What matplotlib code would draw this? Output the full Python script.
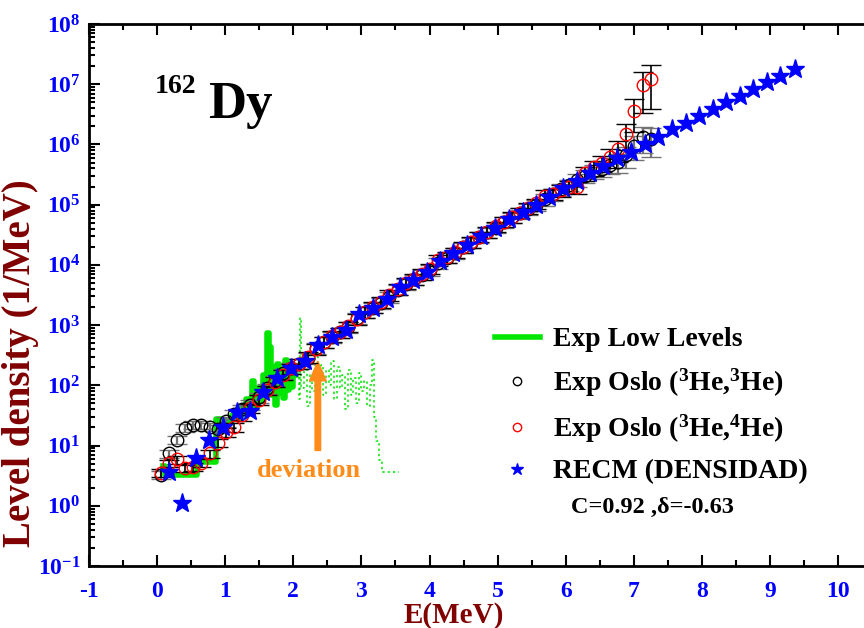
import numpy as np
import matplotlib
matplotlib.use("Agg")
import matplotlib.pyplot as plt
from matplotlib.lines import Line2D
from matplotlib.ticker import FixedLocator, LogLocator, FuncFormatter, NullFormatter, MultipleLocator

# ---- data ----
# RECM (DENSIDAD) stars
e_recm = [0.17, 0.37, 0.57, 0.76, 0.97, 1.17, 1.36, 1.56, 1.76, 1.96, 2.17, 2.36,
          2.57, 2.77, 2.97, 3.17, 3.37, 3.57, 3.76, 3.96, 4.15, 4.35, 4.55, 4.76,
          4.96, 5.16, 5.37, 5.56, 5.75, 5.96, 6.16, 6.36, 6.55, 6.75, 6.96, 7.16,
          7.36, 7.56, 7.77, 7.96, 8.16, 8.35, 8.56, 8.75, 8.96, 9.15, 9.37]
rho_recm = [3.6, 1.1, 6.2, 12.3, 20.4, 35.5, 37.2, 77.6, 132, 195, 251, 468,
            631, 832, 1510, 1950, 2690, 4270, 5620, 7590, 11500, 15500, 21400, 30200,
            40700, 57500, 75900, 97700, 1.35e5, 1.91e5, 2.51e5, 3.31e5, 4.47e5, 5.89e5, 7.59e5, 1.02e6,
            1.32e6, 1.82e6, 2.29e6, 2.95e6, 3.89e6, 5.01e6, 6.31e6, 8.32e6, 1.10e7, 1.38e7, 1.78e7]

# Oslo (3He,3He) and (3He,4He), same energy bins
e_oslo = [0.05, 0.17, 0.29, 0.41, 0.53, 0.65, 0.77, 0.89, 1.01, 1.13, 1.25, 1.37,
          1.49, 1.61, 1.73, 1.85, 1.97, 2.09, 2.21, 2.33, 2.45, 2.57, 2.69, 2.81,
          2.93, 3.05, 3.17, 3.29, 3.41, 3.53, 3.65, 3.77, 3.89, 4.01, 4.13, 4.25,
          4.37, 4.49, 4.61, 4.73, 4.85, 4.97, 5.09, 5.21, 5.33, 5.45, 5.57, 5.69,
          5.81, 5.93, 6.05, 6.17, 6.29, 6.41, 6.53, 6.65, 6.77, 6.89, 7.01, 7.13, 7.25]
rho_33 = [3.3, 7.4, 12.6, 19.5, 21.9, 21.9, 20.4, 19.1, 25.1, 33.1, 39.8, 47.9,
          63.1, 89.1, 120, 158, 195, 229, 288, 417, 525, 631, 759, 933,
          1320, 1660, 1950, 2340, 2950, 3890, 4790, 5750, 6920, 8320, 10700, 13200,
          15800, 19500, 23400, 28800, 34700, 41700, 51300, 61700, 72400, 85100, 1.0e5, 1.23e5,
          1.48e5, 1.82e5, 2.14e5, 2.57e5, 3.02e5, 3.63e5, 3.98e5, 4.57e5, 5.13e5, 6.61e5, 9.55e5, 1.32e6, 1.23e6]
err_33 = [0.15, 0.15, 0.15, 0.15, 0.15, 0.15, 0.15, 0.15, 0.18, 0.18, 0.18, 0.18,
          0.18, 0.18, 0.18, 0.18, 0.2, 0.2, 0.2, 0.2, 0.2, 0.2, 0.2, 0.2,
          0.2, 0.2, 0.2, 0.2, 0.2, 0.2, 0.2, 0.2, 0.2, 0.2, 0.2, 0.2,
          0.2, 0.2, 0.2, 0.2, 0.2, 0.2, 0.2, 0.2, 0.2, 0.2, 0.2, 0.22,
          0.22, 0.22, 0.22, 0.24, 0.24, 0.26, 0.28, 0.3, 0.34, 0.38, 0.42, 0.45, 0.5]
rho_34 = [3.5, 5.1, 5.9, 4.2, 4.4, 5.2, 7.4, 11.2, 16.6, 20.4, 31.6, 41.7,
          57.5, 83.2, 115, 151, 191, 229, 295, 398, 525, 661, 759, 955,
          1260, 1660, 2000, 2400, 3160, 3980, 5010, 5890, 7080, 8710, 12000, 13500,
          16200, 20000, 24000, 29500, 35500, 43700, 52500, 63100, 74100, 89100, 1.05e5, 1.41e5,
          1.51e5, 1.74e5, 2.0e5, 2.0e5, 3.31e5, 4.17e5, 5.01e5, 6.17e5, 8.32e5, 1.48e6, 3.63e6, 9.77e6, 1.23e7]
err_34 = [0.15, 0.15, 0.15, 0.15, 0.15, 0.15, 0.15, 0.15, 0.18, 0.18, 0.18, 0.18,
          0.18, 0.18, 0.18, 0.18, 0.2, 0.2, 0.2, 0.2, 0.2, 0.2, 0.2, 0.2,
          0.2, 0.2, 0.2, 0.2, 0.2, 0.2, 0.2, 0.2, 0.2, 0.2, 0.2, 0.2,
          0.2, 0.2, 0.2, 0.2, 0.2, 0.2, 0.2, 0.2, 0.2, 0.2, 0.2, 0.22,
          0.22, 0.22, 0.22, 0.24, 0.26, 0.28, 0.3, 0.34, 0.38, 0.45, 0.55, 0.66, 0.68]

# discrete low levels (histogram), thick part and thin part
e_low = [0.08, 0.12, 0.58, 0.86, 0.95, 1.02, 1.10, 1.17, 1.23, 1.27, 1.31, 1.35,
         1.39, 1.43, 1.47, 1.51, 1.55, 1.58, 1.61, 1.64, 1.67, 1.70, 1.73, 1.76,
         1.79, 1.82, 1.85, 1.88, 1.91, 1.94, 1.97, 2.00, 2.04]
rho_low = [4.6, 3.3, 5.4, 28, 22, 26, 32, 28, 45, 33, 60, 38,
           120, 42, 90, 55, 150, 65, 740, 440, 70, 200, 48, 230,
           75, 180, 62, 260, 85, 200, 95, 150, 150]
e_high = [2.04, 2.08, 2.10, 2.12, 2.16, 2.20, 2.24, 2.28, 2.32, 2.36, 2.40, 2.44,
          2.48, 2.52, 2.56, 2.60, 2.64, 2.68, 2.72, 2.76, 2.80, 2.84, 2.88, 2.92,
          2.96, 3.00, 3.04, 3.08, 3.12, 3.16, 3.19, 3.22, 3.26, 3.30, 3.55]
rho_high = [150, 60, 1300, 90, 200, 45, 150, 80, 300, 120, 220, 70,
            180, 100, 250, 60, 200, 90, 150, 40, 180, 70, 130, 50,
            160, 80, 120, 45, 100, 260, 30, 12, 5.8, 3.6, 3.6]

x_ticks = [-1, 0, 1, 2, 3, 4, 5, 6, 7, 8, 9, 10]
y_exps = [-1, 0, 1, 2, 3, 4, 5, 6, 7, 8]

# ---- style ----
plt.rcParams['font.family'] = ['Liberation Serif', 'DejaVu Serif']
plt.rcParams['font.weight'] = 'bold'
plt.rcParams['mathtext.fontset'] = 'custom'
plt.rcParams['mathtext.rm'] = 'Liberation Serif:bold'
plt.rcParams['mathtext.bf'] = 'Liberation Serif:bold'
plt.rcParams['mathtext.it'] = 'Liberation Serif:bold'
plt.rcParams['mathtext.default'] = 'bf'
plt.rcParams['axes.unicode_minus'] = False

GREEN = '#00e600'
BLUE = '#0000ff'
MAROON = '#800000'
ORANGE = '#ff8c1a'

fig = plt.figure(figsize=(8.64, 6.28), dpi=100)
ax = fig.add_axes([89 / 864, 62 / 628, 1 - 89 / 864, 542 / 628])

e_oslo = np.array(e_oslo)
rho_33 = np.array(rho_33)
rho_34 = np.array(rho_34)

# green low-level histogram
ax.step(e_low, rho_low, where='post', color=GREEN, lw=4, zorder=2)
ax.step(e_high, rho_high, where='post', color=GREEN, lw=1.1, ls=(0, (1.5, 2)), zorder=2)

# Oslo data with error bars
ax.errorbar(e_oslo, rho_33, yerr=rho_33 * np.array(err_33), fmt='o', ms=9, mfc='none',
            mec='black', mew=1.0, ecolor='0.45', elinewidth=1.6, capsize=7, capthick=1.6, zorder=3)
ax.errorbar(e_oslo, rho_34, yerr=rho_34 * np.array(err_34), fmt='o', ms=9, mfc='none',
            mec='red', mew=1.0, ecolor='black', elinewidth=1.2, capsize=7, capthick=1.2, zorder=4)

# RECM
ax.plot(e_recm, rho_recm, ls='none', marker='*', ms=14, color=BLUE, mec=BLUE, zorder=5)

ax.set_yscale('log')
ax.set_xlim(-1, 10.38)
ax.set_ylim(0.1, 1e8)

ax.xaxis.set_major_locator(FixedLocator(x_ticks))
ax.xaxis.set_minor_locator(MultipleLocator(0.5))
ax.yaxis.set_major_locator(FixedLocator([10.0 ** k for k in y_exps]))
ax.yaxis.set_minor_locator(LogLocator(base=10, subs=np.arange(2, 10), numticks=20))
ax.yaxis.set_minor_formatter(NullFormatter())
ax.yaxis.set_major_formatter(FuncFormatter(lambda v, p: r'$\mathbf{10^{%d}}$' % round(np.log10(v))))

ax.tick_params(which='both', direction='in', top=True, right=False, width=1.5,
               colors='black', labelcolor=BLUE, labelsize=17)
ax.tick_params(which='major', length=8)
ax.tick_params(which='minor', length=4)
ax.tick_params(axis='x', pad=11)
ax.tick_params(axis='y', pad=6)
for s in ['left', 'bottom', 'top']:
    ax.spines[s].set_linewidth(2)
ax.spines['right'].set_visible(False)

ax.set_xlabel('E(MeV)', color=MAROON, fontsize=21, fontweight='bold')
ax.xaxis.set_label_coords(0.47, -0.066)
ax.set_ylabel('Level density (1/MeV)', color=MAROON, fontsize=28, fontweight='bold')
ax.yaxis.set_label_coords(-0.064, 0.375)

# nucleus label
ax.text(-0.03, 10 ** 6.85, '162', fontsize=20, fontweight='bold', color='black')
ax.text(0.75, 10 ** 6.44, 'Dy', fontsize=38, fontweight='bold', color='black')

# deviation arrow
ax.annotate('', xy=(2.36, 250), xytext=(2.36, 8.3),
            arrowprops=dict(facecolor=ORANGE, edgecolor=ORANGE, width=4, headwidth=12,
                            headlength=14, shrink=0))
ax.text(2.23, 3.9, 'deviation', color=ORANGE, fontsize=19, fontweight='bold',
        ha='center', va='center')

# legend
handles = [
    Line2D([], [], color=GREEN, lw=4),
    Line2D([], [], ls='none', marker='o', ms=6, mfc='none', mec='black'),
    Line2D([], [], ls='none', marker='o', ms=6, mfc='none', mec='red'),
    Line2D([], [], ls='none', marker='*', ms=9, color=BLUE),
]
labels = ['Exp Low Levels', r'Exp Oslo ($^{3}$He,$^{3}$He)',
          r'Exp Oslo ($^{3}$He,$^{4}$He)', 'RECM (DENSIDAD)']
ax.legend(handles, labels, loc='upper left', bbox_to_anchor=(0.524, 0.441), frameon=False,
          fontsize=20, handlelength=1.6, handletextpad=0.5, labelspacing=0.5,
          borderpad=0, borderaxespad=0)

ax.text(7.28, 0.95, r'C=0.92 ,δ=-0.63', fontsize=17.5, fontweight='bold',
        ha='center', va='center', color='black')

fig.savefig('out.png', dpi=100)
